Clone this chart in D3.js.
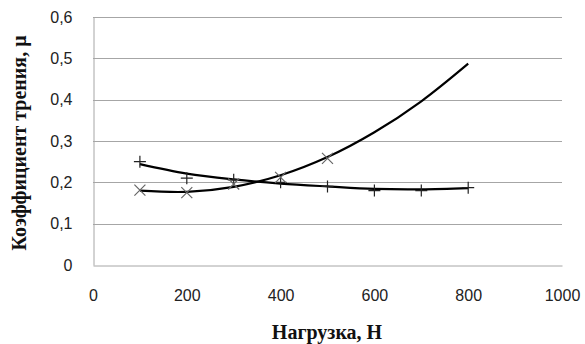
<!DOCTYPE html>
<html>
<head>
<meta charset="utf-8">
<title>Коэффициент трения</title>
<script src="https://d3js.org/d3.v7.min.js"></script>
<style>
  body { margin: 0; background: #fff; }
</style>
</head>
<body>
<div id="chart"></div>
<script>
  // loads (N)
  const loads = [100, 200, 300, 400, 500, 600, 700, 800];
  // series "+" : measured points and its trendline
  const plusValues = [0.25, 0.21, 0.206, 0.20, 0.19, 0.18, 0.18, 0.187];
  const plusTrend  = [0.244, 0.221, 0.207, 0.197, 0.19, 0.184, 0.183, 0.186];
  // series "x" : measured points (100..500) and its trendline (up to 800)
  const crossLoads  = [100, 200, 300, 400, 500];
  const crossValues = [0.181, 0.175, 0.196, 0.212, 0.258];
  const crossTrend  = [0.180, 0.177, 0.189, 0.217, 0.261, 0.321, 0.396, 0.487];

  const xTicks = [0, 200, 400, 600, 800, 1000];
  const yTicks = [0, 0.1, 0.2, 0.3, 0.4, 0.5, 0.6];

  const W = 585, H = 344;
  const svg = d3.select("#chart").append("svg")
    .attr("width", W)
    .attr("height", H);

  const x = d3.scaleLinear().domain([0, 1000]).range([93, 562]);
  const y = d3.scaleLinear().domain([0, 0.6]).range([265, 17]);

  const fmt = d => String(d).replace(".", ",");

  // gridlines
  svg.append("g")
    .selectAll("line")
    .data(yTicks.filter(d => d > 0))
    .enter().append("line")
    .attr("x1", x(0)).attr("x2", x(1000))
    .attr("y1", d => Math.round(y(d)) + 0.5)
    .attr("y2", d => Math.round(y(d)) + 0.5)
    .attr("stroke", "#a6a6a6")
    .attr("stroke-width", 1);

  // axes
  svg.append("g")
    .attr("transform", `translate(0,${Math.round(y(0)) + 0.5})`)
    .call(d3.axisBottom(x).tickValues(xTicks).tickSize(0).tickPadding(24).tickFormat(d => d))
    .call(g => g.select(".domain").attr("stroke", "#a6a6a6"))
    .selectAll("text")
    .style("font-family", "'Liberation Sans', Arial, sans-serif")
    .style("font-size", "16px")
    .style("fill", "#222");

  svg.append("g")
    .attr("transform", `translate(${Math.round(x(0)) + 0.5},0)`)
    .call(d3.axisLeft(y).tickValues(yTicks).tickSize(0).tickPadding(21).tickFormat(fmt))
    .call(g => g.select(".domain").attr("stroke", "#a6a6a6"))
    .selectAll("text")
    .style("font-family", "'Liberation Sans', Arial, sans-serif")
    .style("font-size", "16px")
    .style("fill", "#222");

  // trendlines
  const line = d3.line()
    .x((d, i) => x(loads[i]))
    .y(d => y(d))
    .curve(d3.curveCatmullRom);

  svg.append("path")
    .datum(plusTrend)
    .attr("d", line)
    .attr("fill", "none")
    .attr("stroke", "#000")
    .attr("stroke-width", 2.2);

  svg.append("path")
    .datum(crossTrend)
    .attr("d", line)
    .attr("fill", "none")
    .attr("stroke", "#000")
    .attr("stroke-width", 2.2);

  // markers
  const s = 6;
  svg.append("g")
    .selectAll("path")
    .data(plusValues)
    .enter().append("path")
    .attr("d", (d, i) => {
      const cx = x(loads[i]), cy = y(d);
      return `M${cx - s},${cy}H${cx + s}M${cx},${cy - s}V${cy + s}`;
    })
    .attr("stroke", "#222")
    .attr("stroke-width", 1.2);

  svg.append("g")
    .selectAll("path")
    .data(crossValues)
    .enter().append("path")
    .attr("d", (d, i) => {
      const cx = x(crossLoads[i]), cy = y(d), r = 5.5;
      return `M${cx - r},${cy - r}L${cx + r},${cy + r}M${cx - r},${cy + r}L${cx + r},${cy - r}`;
    })
    .attr("stroke", "#666")
    .attr("stroke-width", 1.2);

  // axis titles
  svg.append("text")
    .attr("x", 327)
    .attr("y", 339)
    .attr("text-anchor", "middle")
    .style("font-family", "'Liberation Serif', 'Times New Roman', serif")
    .style("font-weight", "bold")
    .style("font-size", "20px")
    .style("fill", "#111")
    .text("Нагрузка, Н");

  svg.append("text")
    .attr("transform", "translate(26,143) rotate(-90)")
    .attr("text-anchor", "middle")
    .style("font-family", "'Liberation Serif', 'Times New Roman', serif")
    .style("font-weight", "bold")
    .style("font-size", "20px")
    .style("fill", "#111")
    .text("Коэффициент трения, μ");
</script>
</body>
</html>
